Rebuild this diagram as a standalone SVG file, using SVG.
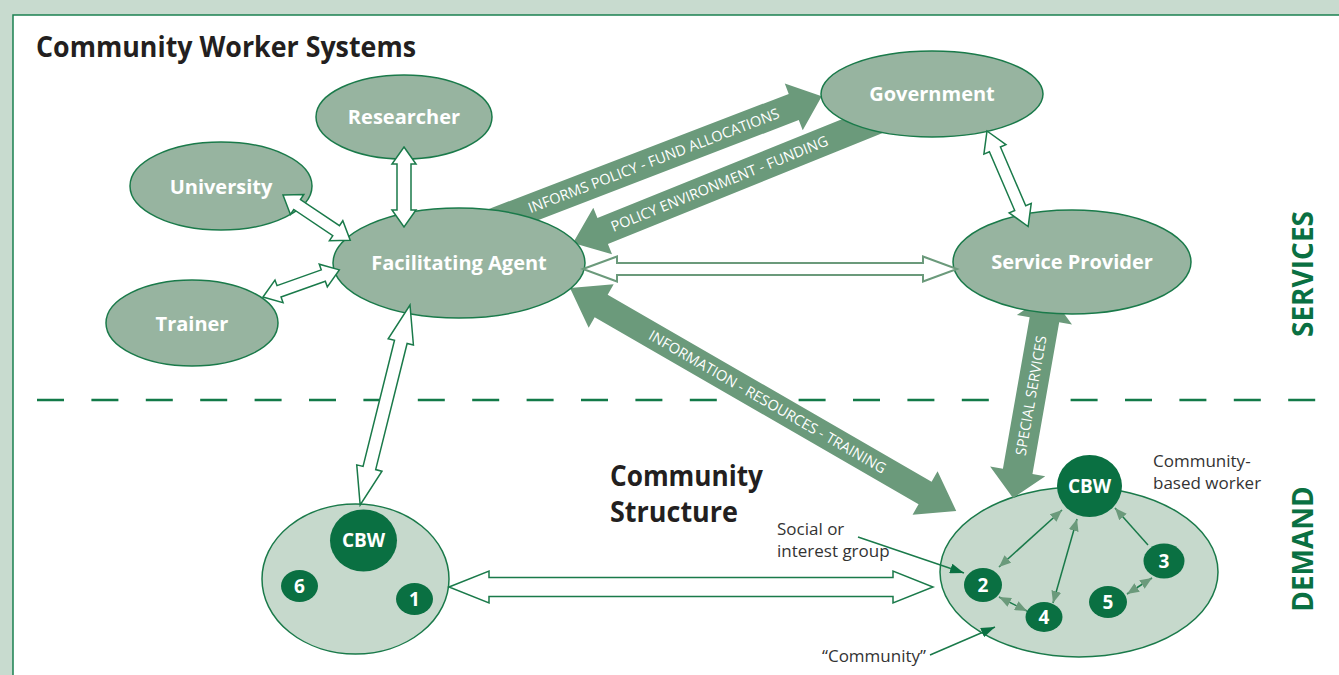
<svg xmlns="http://www.w3.org/2000/svg" width="1339" height="675" viewBox="0 0 1339 675">
<style>
text{font-family:"Open Sans","Noto Sans","Liberation Sans",sans-serif}
.node{fill:#97b4a0;stroke:#1a7a4a;stroke-width:1.5}
.nl{fill:#fff;font-weight:700;font-size:20px;text-anchor:middle}
.comm{fill:#c6d9cc;stroke:#1a7a4a;stroke-width:1.5}
.dk{fill:#0a7042}
.dl{fill:#fff;font-weight:700;font-size:19px;text-anchor:middle}
.solid{fill:#6b9a7b}
.st{fill:#fff;font-size:14.5px;text-anchor:middle}
.hollow{fill:#fff;stroke:#1a7a4a;stroke-width:1.5;stroke-linejoin:miter}
.hollow2{fill:#fff;stroke:#6b9a7b;stroke-width:2}
.ann{fill:#333;font-size:17px}
.thin{stroke:#1a7a4a;stroke-width:1.5;fill:none}
.side{fill:#0a7042;font-weight:700;font-size:28px;text-anchor:middle}
</style>
<defs>
<marker id="ah" viewBox="0 0 12 10" refX="12" refY="5" markerWidth="12" markerHeight="10" markerUnits="userSpaceOnUse" orient="auto-start-reverse">
<path d="M0,0 L12,5 L0,10 z" fill="#6b9a7b"/>
</marker>
<marker id="ahd" viewBox="0 0 14 10" refX="14" refY="5" markerWidth="14" markerHeight="10" markerUnits="userSpaceOnUse" orient="auto">
<path d="M0,0 L14,5 L0,10 z" fill="#0a7042"/>
</marker>
</defs>
<rect x="0" y="0" width="1339" height="675" fill="#c8dbcf"/>
<rect x="13" y="15" width="1330" height="665" fill="#fff" stroke="#1b8152" stroke-width="1.5"/>
<text x="36" y="57" font-size="28" font-weight="700" fill="#231f20" textLength="380" lengthAdjust="spacingAndGlyphs">Community Worker Systems</text>
<line x1="37" y1="400" x2="1316" y2="400" stroke="#127a48" stroke-width="2.5" stroke-dasharray="27 27.4"/>
<text x="610" y="486" font-size="29" font-weight="700" fill="#231f20" textLength="153" lengthAdjust="spacingAndGlyphs">Community</text>
<text x="610" y="522" font-size="29" font-weight="700" fill="#231f20" textLength="128" lengthAdjust="spacingAndGlyphs">Structure</text>
<text class="side" transform="translate(1313,274) rotate(-90)">SERVICES</text>
<text class="side" transform="translate(1313,549) rotate(-90)">DEMAND</text>

<g id="community-left">
<ellipse class="comm" cx="355.5" cy="579" rx="93.5" ry="75"/>
<ellipse class="dk" cx="363.5" cy="540.5" rx="33.5" ry="31"/>
<text class="dl" x="363.5" y="547">CBW</text>
<ellipse class="dk" cx="299.5" cy="586" rx="18.5" ry="16"/>
<text class="dl" x="299.5" y="593">6</text>
<ellipse class="dk" cx="414.5" cy="599" rx="18.5" ry="16"/>
<text class="dl" x="414.5" y="606">1</text>
</g>

<g id="community-right">
<ellipse class="comm" cx="1079" cy="572" rx="139" ry="85"/>
<ellipse class="dk" cx="1089.5" cy="486" rx="32.5" ry="31"/>
<text class="dl" x="1089.5" y="493">CBW</text>
<ellipse class="dk" cx="983" cy="585" rx="19" ry="17"/>
<text class="dl" x="983" y="592">2</text>
<ellipse class="dk" cx="1044" cy="617" rx="18.5" ry="15"/>
<text class="dl" x="1044" y="624">4</text>
<ellipse class="dk" cx="1164" cy="561" rx="20.5" ry="17.5"/>
<text class="dl" x="1164" y="568">3</text>
<ellipse class="dk" cx="1108" cy="602" rx="19" ry="16"/>
<text class="dl" x="1108" y="609">5</text>
</g>

<g id="connectors-flow">
<g transform="translate(481,227) rotate(-21)">
<polygon class="solid" points="0,-14 335,-14 335,-25 365,0 335,25 335,14 0,14"/>
<text class="st" x="185" y="5">INFORMS POLICY - FUND ALLOCATIONS</text>
</g>
<g transform="translate(573,243) rotate(-22)">
<polygon class="solid" points="0,0 32,-25 32,-14 345,-14 345,14 32,14 32,25"/>
<text class="st" x="158" y="5">POLICY ENVIRONMENT  -  FUNDING</text>
</g>
<g transform="translate(570,288) rotate(30)">
<polygon class="solid" points="0,0 36,-25 36,-13 410,-13 410,-25 446,0 410,25 410,13 36,13 36,25"/>
<text class="st" x="228" y="5">INFORMATION - RESOURCES - TRAINING</text>
</g>
<g transform="translate(1013,498) rotate(-80)">
<polygon class="solid" points="0,0 27,-28 27,-15 181,-15 181,-28 208,0 181,28 181,15 27,15 27,28"/>
<text class="st" x="104" y="5">SPECIAL SERVICES</text>
</g>
</g>

<g id="researcher"><ellipse class="node" cx="404" cy="117" rx="88" ry="42"/><text class="nl" x="404" y="124">Researcher</text></g>
<g id="university"><ellipse class="node" cx="221" cy="186" rx="91" ry="44"/><text class="nl" x="221" y="194">University</text></g>
<g id="trainer"><ellipse class="node" cx="192" cy="323" rx="86" ry="43"/><text class="nl" x="192" y="331">Trainer</text></g>
<g id="facilitating-agent"><ellipse class="node" cx="459" cy="263" rx="126" ry="55"/><text class="nl" x="459" y="270">Facilitating Agent</text></g>
<g id="government"><ellipse class="node" cx="932" cy="94" rx="111" ry="43"/><text class="nl" x="932" y="101">Government</text></g>
<g id="service-provider"><ellipse class="node" cx="1072" cy="262" rx="119" ry="52"/><text class="nl" x="1072" y="269">Service Provider</text></g>

<g id="connectors-links">
<polygon class="hollow" transform="translate(404,147) rotate(90)" points="0,0 17,-12 17,-7 63,-7 63,-12 80,0 63,12 63,7 17,7 17,12"/>
<polygon class="hollow" transform="translate(283,195) rotate(33.9)" points="0,0 17,-12 17,-6 64,-6 64,-12 81,0 64,12 64,6 17,6 17,12"/>
<polygon class="hollow" transform="translate(263,297) rotate(-19.6)" points="0,0 17,-12 17,-6 64,-6 64,-12 81,0 64,12 64,6 17,6 17,12"/>
<polygon class="hollow" transform="translate(410,305) rotate(104)" points="0,0 38,-13 38,-6.5 168,-6.5 168,-13 206,0 168,13 168,6.5 38,6.5 38,13"/>
<polygon class="hollow2" transform="translate(583,269)" points="0,0 34,-12.5 34,-6 340,-6 340,-12.5 374,0 340,12.5 340,6 34,6 34,12.5"/>
<polygon class="hollow" transform="translate(987,131) rotate(66.7)" points="0,0 20,-12 20,-6 84,-6 84,-12 104,0 84,12 84,6 20,6 20,12"/>
<polygon class="hollow" transform="translate(449,587)" points="0,0 40,-16 40,-9.5 444,-9.5 444,-16 484,0 444,16 444,9.5 40,9.5 40,16"/>
<line class="thin" x1="1062" y1="510" x2="999" y2="567" marker-start="url(#ah)" marker-end="url(#ah)"/>
<line class="thin" x1="1077" y1="519" x2="1053" y2="603" marker-start="url(#ah)" marker-end="url(#ah)"/>
<line class="thin" x1="1148" y1="545" x2="1115" y2="508" marker-end="url(#ah)"/>
<line class="thin" x1="999" y1="597" x2="1027" y2="611" marker-start="url(#ah)" marker-end="url(#ah)"/>
<line class="thin" x1="1127" y1="594" x2="1152" y2="578" marker-start="url(#ah)" marker-end="url(#ah)"/>
<line class="thin" x1="858" y1="537" x2="964" y2="573" marker-end="url(#ahd)"/>
<line class="thin" x1="930" y1="655" x2="995" y2="627" marker-end="url(#ahd)"/>
</g>

<g id="labels">
<text class="ann" x="1153" y="467">Community-</text>
<text class="ann" x="1153" y="489">based worker</text>
<text class="ann" x="777" y="535">Social or</text>
<text class="ann" x="777" y="557">interest group</text>
<text class="ann" x="822" y="662">“Community”</text>
</g>
</svg>
